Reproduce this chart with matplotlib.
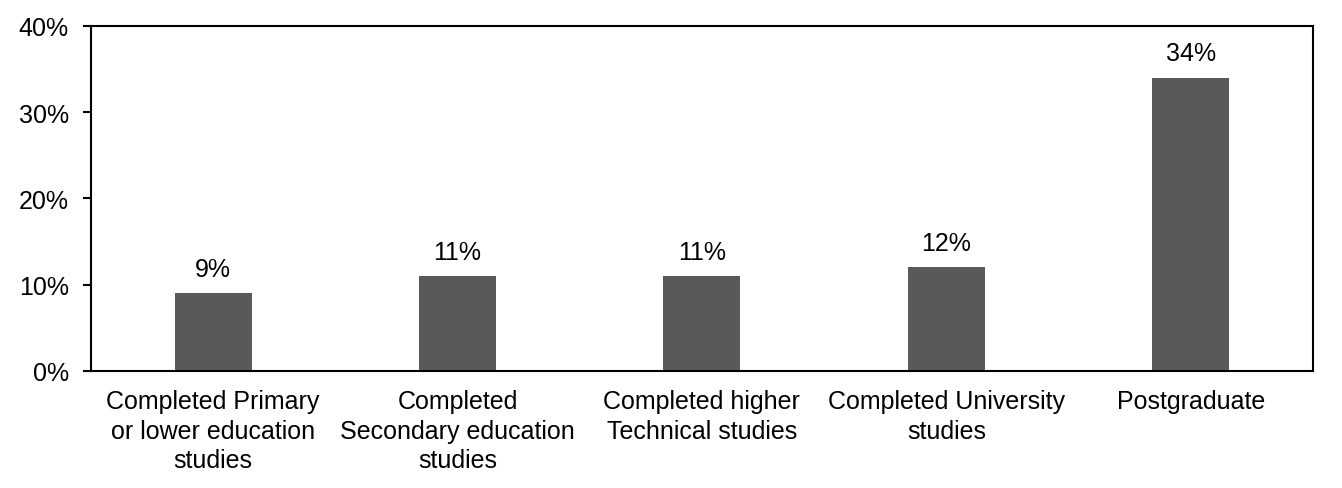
from matplotlib import pyplot as plt
import numpy as np

categories = ["Completed Primary\nor lower education\nstudies",
              "Completed\nSecondary education\nstudies",
              "Completed higher\nTechnical studies",
              "Completed University\nstudies",
              "Postgraduate"]
values = [9, 11, 11, 12, 34]
y_ticks = [0, 10, 20, 30, 40]

plt.rcParams['font.family'] = ['Liberation Sans', 'DejaVu Sans']

fig = plt.figure(figsize=(13.42, 4.89), dpi=100)
ax = fig.add_axes([0.0678, 0.2393, 0.9105, 0.7055])

x = np.arange(len(values))
bars = ax.bar(x, values, width=0.315, color='#595959')

for b, v in zip(bars, values):
    ax.annotate("%d%%" % v, (b.get_x() + b.get_width() / 2, v),
                xytext=(0, 9), textcoords='offset points',
                ha='center', va='bottom', fontsize=18)

ax.set_xlim(-0.5, len(values) - 0.5)
ax.set_ylim(0, 40)
ax.set_yticks(y_ticks)
ax.set_yticklabels(["%d%%" % t for t in y_ticks], fontsize=18)
ax.set_xticks(x)
ax.set_xticklabels(categories, fontsize=18, linespacing=1.3, va='top')
ax.tick_params(axis='x', length=0, pad=13)
ax.tick_params(axis='y', length=6, width=1.5, direction='out', pad=10)
for s in ax.spines.values():
    s.set_linewidth(1.5)

plt.savefig("out.png", dpi=100)
